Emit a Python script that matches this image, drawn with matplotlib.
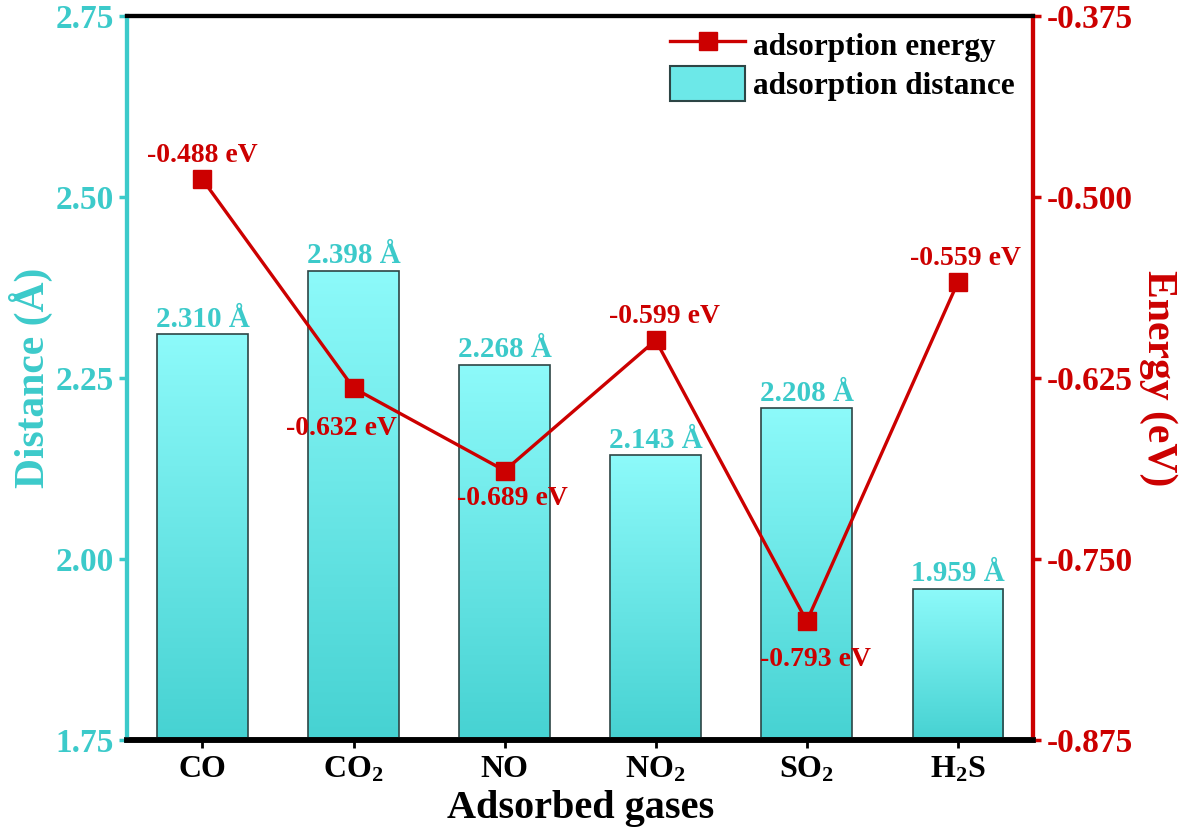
import numpy as np
import matplotlib
matplotlib.use("Agg")
import matplotlib.pyplot as plt
from matplotlib.colors import LinearSegmentedColormap
from matplotlib.patches import Patch
from matplotlib.lines import Line2D

plt.rcParams["font.family"] = ["Liberation Serif", "DejaVu Serif"]
plt.rcParams["font.weight"] = "bold"
plt.rcParams["mathtext.fontset"] = "custom"
plt.rcParams["mathtext.rm"] = "Liberation Serif:bold"
plt.rcParams["mathtext.it"] = "Liberation Serif:bold"
plt.rcParams["mathtext.bf"] = "Liberation Serif:bold"

# data
gases = ["CO", r"CO$_2$", "NO", r"NO$_2$", r"SO$_2$", r"H$_2$S"]
distance = [2.310, 2.398, 2.268, 2.143, 2.208, 1.959]
energy = [-0.488, -0.632, -0.689, -0.599, -0.793, -0.559]

# label offsets for energy annotations (pixels)
energy_offsets = [(0, 24), (-12, -40), (8, -28), (9, 24), (9, -38), (8, 24)]

CYAN = "#3CCACA"
RED = "#CC0000"

fig = plt.figure(figsize=(11.81, 8.31), dpi=100)
ax = fig.add_axes([0.1075, 0.1095, 0.7675, 0.8715])
ax2 = ax.twinx()

x = np.arange(len(gases))
bars = ax.bar(x, distance, width=0.6, color="none", edgecolor="#2D4545", linewidth=1.2, zorder=3)

# vertical gradient inside each bar
cmap = LinearSegmentedColormap.from_list("cy", ["#46D2D2", "#8DFAFA"])
grad = np.linspace(0, 1, 256).reshape(-1, 1)
for b in bars:
    x0, y0 = b.get_x(), b.get_y()
    w, h = b.get_width(), b.get_height()
    ybot = 1.75
    im = ax.imshow(grad, cmap=cmap, aspect="auto", origin="lower",
                   extent=(x0, x0 + w, ybot, y0 + h), zorder=2)
    im.set_clip_path(b)

for xi, d in zip(x, distance):
    ax.text(xi, d + 0.002, f"{d:.3f} Å", ha="center", va="bottom",
            color=CYAN, fontsize=21, fontweight="bold", zorder=5)

ax.set_xlim(-0.5, 5.5)
ax.set_ylim(1.75, 2.75)
ax.set_yticks([1.75, 2.00, 2.25, 2.50, 2.75])
ax.set_yticklabels([f"{v:.2f}" for v in [1.75, 2.00, 2.25, 2.50, 2.75]])
ax.set_xticks(x)
ax.set_xticklabels(gases)

ax2.plot(x, energy, color=RED, linewidth=2.4, marker="s", markersize=13, zorder=4)
for xi, e, off in zip(x, energy, energy_offsets):
    ax2.annotate(f"{e:.3f} eV", (xi, e), xytext=off, textcoords="offset pixels",
                 ha="center", va="center", color=RED, fontsize=20, fontweight="bold")
ax2.set_ylim(-0.875, -0.375)
ticks_e = [-0.875, -0.750, -0.625, -0.500, -0.375]
ax2.set_yticks(ticks_e)
ax2.set_yticklabels([f"{v:.3f}" for v in ticks_e])

# spines and ticks
for a in (ax, ax2):
    a.spines["top"].set_color("black")
    a.spines["top"].set_linewidth(3)
    a.spines["bottom"].set_color("black")
    a.spines["bottom"].set_linewidth(4)
    a.spines["left"].set_color(CYAN)
    a.spines["left"].set_linewidth(3)
    a.spines["right"].set_color(RED)
    a.spines["right"].set_linewidth(3)

ax.tick_params(axis="y", colors=CYAN, labelsize=24, width=2.5, length=6, direction="out")
ax.tick_params(axis="x", colors="black", labelsize=23, width=2, length=6, direction="out", pad=5)
ax2.tick_params(axis="y", colors=RED, labelsize=24, width=2.5, length=6, direction="out")

ax.set_ylabel("Distance (Å)", color=CYAN, fontsize=30, fontweight="bold", labelpad=2)
ax2.set_ylabel("Energy (eV)", color=RED, fontsize=30, fontweight="bold", rotation=270, labelpad=32)
ax.set_xlabel("Adsorbed gases", color="black", fontsize=29, fontweight="bold", labelpad=4)

handles = [
    Line2D([0], [0], color=RED, linewidth=2.4, marker="s", markersize=13),
    Patch(facecolor="#6CE8E8", edgecolor="#2D4545", linewidth=1.5),
]
ax2.legend(handles, ["adsorption energy", "adsorption distance"], loc="upper right",
           bbox_to_anchor=(1.0, 1.01), frameon=False, handlelength=2.4,
           handleheight=1.3, handletextpad=0.25, labelspacing=0.15, borderaxespad=0.2,
           prop={"weight": "bold", "size": 22.5})

fig.savefig("out.png", dpi=100)
